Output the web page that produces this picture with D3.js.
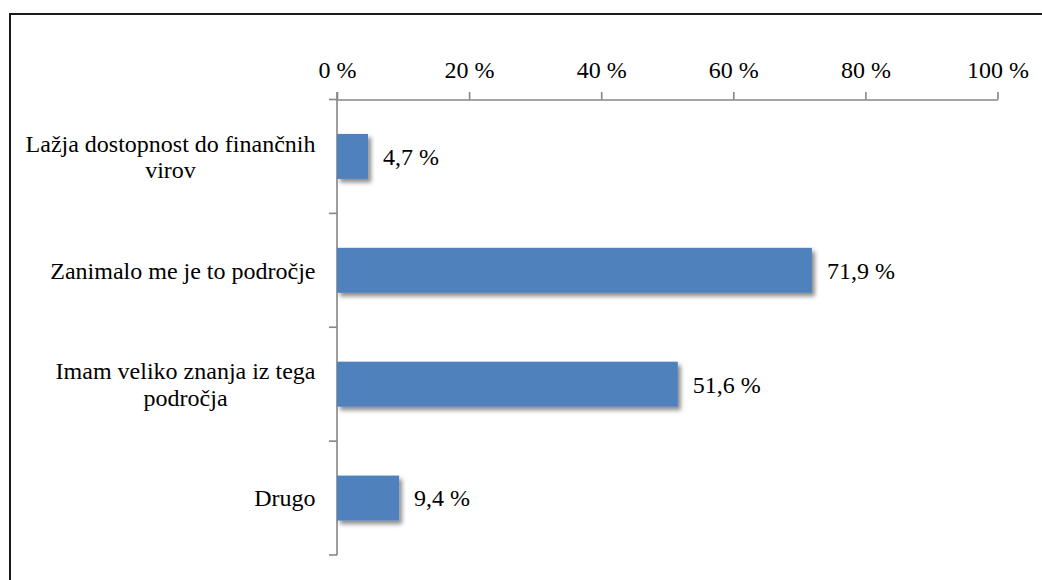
<!DOCTYPE html>
<html>
<head>
<meta charset="utf-8">
<script src="https://cdn.jsdelivr.net/npm/d3@7"></script>
<style>
  html, body { margin: 0; padding: 0; background: #fff; }
  svg { display: block; }
  svg text { font-family: "Liberation Serif" !important; }
</style>
</head>
<body>
<svg id="fig" width="1042" height="580"></svg>
<script>
// Reasons given (share of respondents, %)
const categories = [
  "Lažja dostopnost do finančnih|virov",
  "Zanimalo me je to področje",
  "Imam veliko znanja iz tega|področja",
  "Drugo"
];
const values = [4.7, 71.9, 51.6, 9.4];
const tickValues = [0, 20, 40, 60, 80, 100];

const fmtValue = v => v.toFixed(1).replace(".", ",") + " %";
const fmtTick = v => v + " %";

const FONT = '"Liberation Serif"';
const fontSize = 24;
const lineHeight = 26.3;

const root = d3.select("#fig");

function serif(sel) {
  return sel.attr("font-family", "Liberation Serif")
    .attr("font-size", fontSize)
    .style("font-family", FONT, "important")
    .style("font-size", fontSize + "px")
    .attr("fill", "#000");
}

// Drop shadow for the bars
const flt = root.append("defs").append("filter").attr("id", "barShadow")
  .attr("x", "-10%").attr("y", "-20%").attr("width", "130%").attr("height", "160%");
flt.append("feDropShadow")
  .attr("dx", 3).attr("dy", 3.5).attr("stdDeviation", 2.2)
  .attr("flood-color", "#000").attr("flood-opacity", 0.45);

// Frame (top and left edges)
root.append("path")
  .attr("d", "M10,580 V14 H1042")
  .attr("fill", "none").attr("stroke", "#1a1a1a").attr("stroke-width", 2);

const xs = d3.scaleLinear().domain([0, 100]).range([337, 997.5]);
const ys = d3.scaleBand().domain(categories).range([99.5, 555])
  .paddingInner(0.605).paddingOuter(0.3025);

const axisColor = "#868686";

// Value axis along the top
const xAxis = d3.axisTop(xs).tickValues(tickValues).tickFormat(fmtTick)
  .tickSize(7.5).tickSizeOuter(0).tickPadding(14.5);
const gx = root.append("g").attr("transform", "translate(0,99.5)").call(xAxis);
gx.attr("font-family", "Liberation Serif").attr("font-size", fontSize);
gx.select(".domain").attr("stroke", axisColor).attr("stroke-width", 1.6);
gx.selectAll(".tick line").attr("stroke", axisColor).attr("stroke-width", 1.6);
serif(gx.selectAll(".tick text"));

// Category axis
const catAxis = root.append("g");
catAxis.append("line")
  .attr("x1", xs(0)).attr("x2", xs(0))
  .attr("y1", 99.5 - 7.5).attr("y2", ys.range()[1])
  .attr("stroke", axisColor).attr("stroke-width", 1.6);
const boundaries = d3.range(categories.length + 1).map(i => ys.range()[0] + i * ys.step());
catAxis.selectAll("line.ctick").data(boundaries).join("line")
  .attr("class", "ctick")
  .attr("x1", xs(0) - 8).attr("x2", xs(0))
  .attr("y1", d => d).attr("y2", d => d)
  .attr("stroke", axisColor).attr("stroke-width", 1.6);

// Bars
root.append("g").selectAll("rect").data(values).join("rect")
  .attr("x", xs(0))
  .attr("y", (d, i) => ys(categories[i]))
  .attr("width", d => xs(d) - xs(0))
  .attr("height", ys.bandwidth())
  .attr("fill", "#4F81BD")
  .attr("filter", "url(#barShadow)");

// Value labels
serif(root.append("g").selectAll("text").data(values).join("text"))
  .attr("x", d => xs(d) + 15)
  .attr("y", (d, i) => ys(categories[i]) + ys.bandwidth() / 2)
  .attr("dy", "0.35em")
  .text(fmtValue);

// Category labels, lines centred, block right-aligned against the axis
const labelRight = 315.5;
const lg = root.append("g");
categories.forEach(c => {
  const lines = c.split("|");
  const cy = ys(c) + ys.bandwidth() / 2;
  const t = serif(lg.append("text")).attr("text-anchor", "middle");
  const spans = lines.map((ln, i) => t.append("tspan")
    .attr("y", cy + (i - (lines.length - 1) / 2) * lineHeight)
    .attr("dy", "0.35em")
    .text(ln));
  const w = d3.max(spans, s => s.node().getComputedTextLength());
  spans.forEach(s => s.attr("x", labelRight - w / 2));
});
</script>
</body>
</html>
